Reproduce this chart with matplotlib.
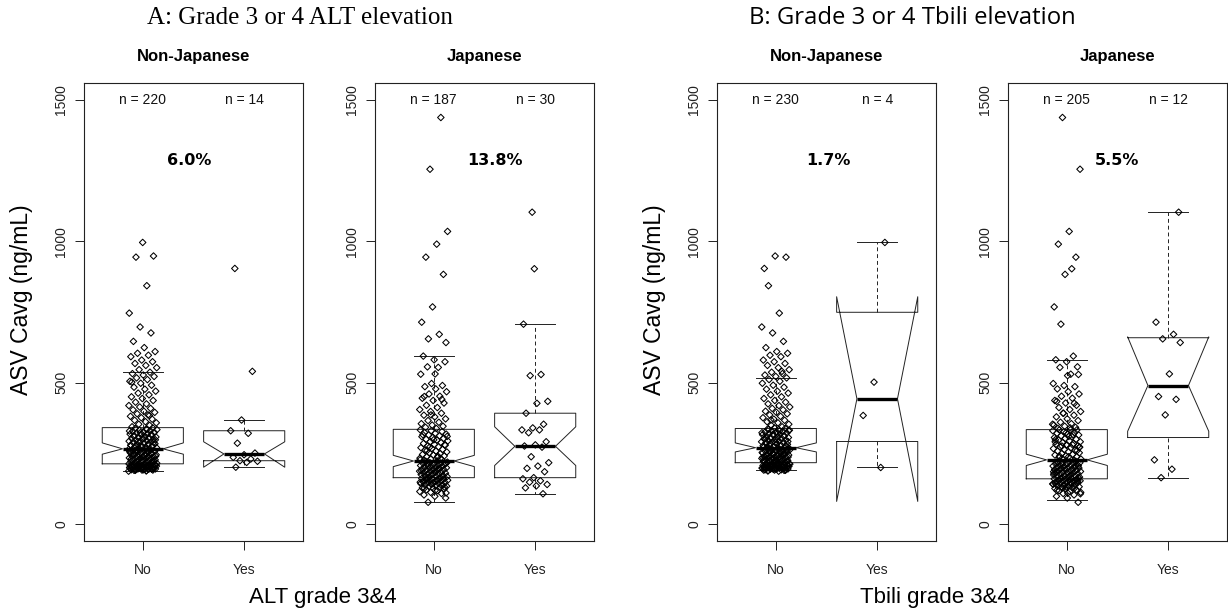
import matplotlib.pyplot as plt
import numpy as np

# ASV Cavg (ng/mL) per patient, read off the jittered points
# Non-Japanese: no grade 3/4 event in ALT or Tbili
nonjap_rest = [
    187, 188, 190, 191, 191, 192, 194, 195, 195, 196,
    197, 197, 198, 199, 200, 200, 201, 202, 203, 203,
    204, 205, 205, 206, 207, 207, 208, 208, 209, 210,
    210, 211, 212, 212, 213, 189, 193, 196, 199, 202,
    204, 206, 209, 211, 190, 194, 198, 201, 205, 208,
    212, 192, 200, 207,
    214, 215, 217, 218, 219, 221, 222, 224, 225, 227,
    228, 229, 231, 232, 234, 235, 236, 238, 239, 241,
    242, 244, 245, 247, 248, 249, 251, 252, 254, 255,
    257, 258, 259, 261, 262, 264, 265, 216, 220, 226,
    230, 233, 237, 240, 243, 246, 250, 253, 256, 260,
    263, 223, 238, 247,
    267, 268, 270, 272, 274, 275, 277, 279, 281, 282,
    284, 286, 288, 290, 291, 293, 295, 297, 299, 301,
    303, 305, 306, 308, 310, 312, 314, 316, 318, 320,
    322, 324, 326, 328, 330, 332, 334, 336, 338, 340,
    271, 278, 285, 292, 298, 304, 311, 317, 323, 329,
    335, 276, 289, 302,
    344, 349, 353, 358, 362, 367, 371, 376, 381, 386,
    390, 395, 399, 404, 409, 414, 419, 425, 431, 437,
    444, 450, 457, 463, 470, 477, 484, 491, 498, 505,
    511, 517, 522, 527, 532, 537,
    546, 553, 561, 568, 574, 580, 592, 597, 604, 610,
    624, 646, 676, 697, 746, 843, 944, 948,
]
nonjap_alt_yes = [904, 540, 368, 330, 321, 286, 251, 245, 236, 230, 224, 222, 218, 201]
nonjap_tbili_yes = [996, 502, 384, 200]

# Japanese
jap_neither = [
    77, 92, 98, 103, 108, 112, 115, 118, 121, 124,
    126, 128, 130, 132, 134, 136, 138, 139, 141, 143,
    144, 146, 147, 149, 150, 152, 153, 155, 156, 157,
    159, 160, 161, 162, 163, 110, 119, 127, 135, 142,
    148, 154, 158, 131, 145, 151,
    165, 166, 168, 169, 171, 172, 174, 175, 177, 178,
    180, 181, 183, 184, 186, 187, 189, 190, 192, 193,
    195, 196, 198, 199, 201, 202, 204, 205, 207, 208,
    210, 211, 213, 214, 216, 217, 219, 220, 222, 170,
    179, 188, 197, 206, 215, 185,
    225, 228, 230, 233, 236, 238, 241, 244, 246, 249,
    252, 255, 258, 261, 264, 267, 270, 273, 276, 279,
    282, 285, 288, 291, 294, 297, 300, 303, 306, 309,
    312, 315, 318, 321, 324, 327, 330, 333, 240, 260,
    280, 298, 316, 232, 272, 310,
    338, 342, 346, 350, 355, 360, 366, 372, 379, 385,
    392, 398, 405, 412, 420, 428, 437, 445, 452, 460,
    468, 478, 486, 490, 497, 530, 554, 556, 574, 581, 594,
    1438, 1255, 1035, 990, 944, 883, 768,
]
jap_alt_only = [903, 707, 529, 525, 434, 427, 392, 353, 340, 333,
                333, 323, 291, 280, 276, 272, 238, 217, 205, 197,
                185, 164, 160, 153, 148, 140, 135, 128, 107]
jap_tbili_only = [714, 671, 655, 642, 531, 451, 441, 386, 227, 194, 164]
jap_both = [1103]

groups = ["No", "Yes"]
panel_titles = ["Non-Japanese", "Japanese", "Non-Japanese", "Japanese"]
percents = ["6.0%", "13.8%", "1.7%", "5.5%"]
percent_x = [1.46, 1.6, 1.52, 1.5]

# notched box statistics, per panel [No, Yes]
whisker_low = [[187, 201], [77, 107], [191, 200], [85, 163]]
q1 = [[213, 224], [164, 164], [217, 292], [160, 306]]
median = [[266, 248], [223, 275], [270, 443], [227, 490]]
q3 = [[341, 330], [335, 392], [338, 749], [334, 659]]
whisker_high = [[537, 368], [594, 707], [518, 996], [579, 1103]]
notch_low = [[247, 201], [203, 207], [255, 80], [207, 328]]
notch_high = [[287, 291], [243, 344], [287, 804], [247, 662]]

panel_data = [
    [nonjap_rest + nonjap_tbili_yes, nonjap_alt_yes],
    [jap_neither + jap_tbili_only, jap_alt_only + jap_both],
    [nonjap_rest + nonjap_alt_yes, nonjap_tbili_yes],
    [jap_neither + jap_alt_only, jap_tbili_only + jap_both],
]

W, H = 1228, 612
fig = plt.figure(figsize=(W / 100, H / 100), dpi=100)
lefts = [84, 375, 717, 1008]
ax_w, top, bottom = 219, 83, 541

for p in range(4):
    ax = fig.add_axes([lefts[p] / W, 1 - bottom / H, ax_w / W, (bottom - top) / H])
    stats = []
    for g in range(2):
        stats.append(dict(med=median[p][g], q1=q1[p][g], q3=q3[p][g],
                          whislo=whisker_low[p][g], whishi=whisker_high[p][g],
                          cilo=notch_low[p][g], cihi=notch_high[p][g], fliers=[]))
    ax.bxp(stats, positions=[1, 2], widths=0.8, shownotches=True, showfliers=False,
           boxprops=dict(color="#222222", linewidth=0.7),
           whiskerprops=dict(color="#222222", linewidth=0.7, linestyle=(0, (4, 3))),
           capprops=dict(color="#222222", linewidth=0.7),
           medianprops=dict(color="black", linewidth=2.4))

    for g in range(2):
        vals = panel_data[p][g]
        k = np.arange(len(vals))
        xs = (g + 1) + ((k * 0.618034 + 0.3 * p + 0.17 * g) % 1.0 - 0.5) * 0.28
        ax.scatter(xs, vals, marker="D", s=11, facecolors="none",
                   edgecolors="black", linewidths=0.75, zorder=3)
        ax.text(g + 1, 1500, f"n = {len(vals)}", ha="center", va="center",
                fontsize=10, family="Liberation Sans", color="#111111")

    ax.text(percent_x[p], 1285, percents[p], ha="center", va="center",
            fontsize=11.5, fontweight="bold", family="DejaVu Sans")

    ax.set_xlim(0.42, 2.58)
    ax.set_ylim(-60, 1560)
    ax.set_xticks([1, 2])
    ax.set_xticklabels(groups)
    ax.set_yticks([0, 500, 1000, 1500])
    ax.tick_params(axis="both", direction="out", length=6.5, width=0.7,
                   labelsize=10, colors="#222222")
    ax.tick_params(axis="x", pad=9)
    ax.tick_params(axis="y", pad=5)
    for lab in ax.get_yticklabels() + ax.get_xticklabels():
        lab.set_family("Liberation Sans")
    for lab in ax.get_yticklabels():
        lab.set_rotation(90)
        lab.set_va("center")
    for s in ax.spines.values():
        s.set_linewidth(0.8)
        s.set_color("#222222")

    fig.text((lefts[p] + ax_w / 2) / W, 1 - 57 / H, panel_titles[p], ha="center",
             va="center", fontsize=12, fontweight="bold", family="Liberation Sans")

fig.text(300 / W, 1 - 18 / H, "A: Grade 3 or 4 ALT elevation", ha="center", va="center",
         fontsize=18, family="Liberation Serif")
fig.text(912 / W, 1 - 18 / H, "B: Grade 3 or 4 Tbili elevation", ha="center", va="center",
         fontsize=17.2, family="Open Sans")

for xpix in [22, 655]:
    fig.text(xpix / W, 1 - 300 / H, "ASV Cavg (ng/mL)", rotation=90, ha="center",
             va="center", fontsize=16.5, family="Liberation Sans")
fig.text(323 / W, 1 - 597 / H, "ALT grade 3&4", ha="center", va="center",
         fontsize=16, family="Liberation Sans")
fig.text(935 / W, 1 - 597 / H, "Tbili grade 3&4", ha="center", va="center",
         fontsize=16, family="Liberation Sans")

fig.savefig("out.png", dpi=100, facecolor="white")
